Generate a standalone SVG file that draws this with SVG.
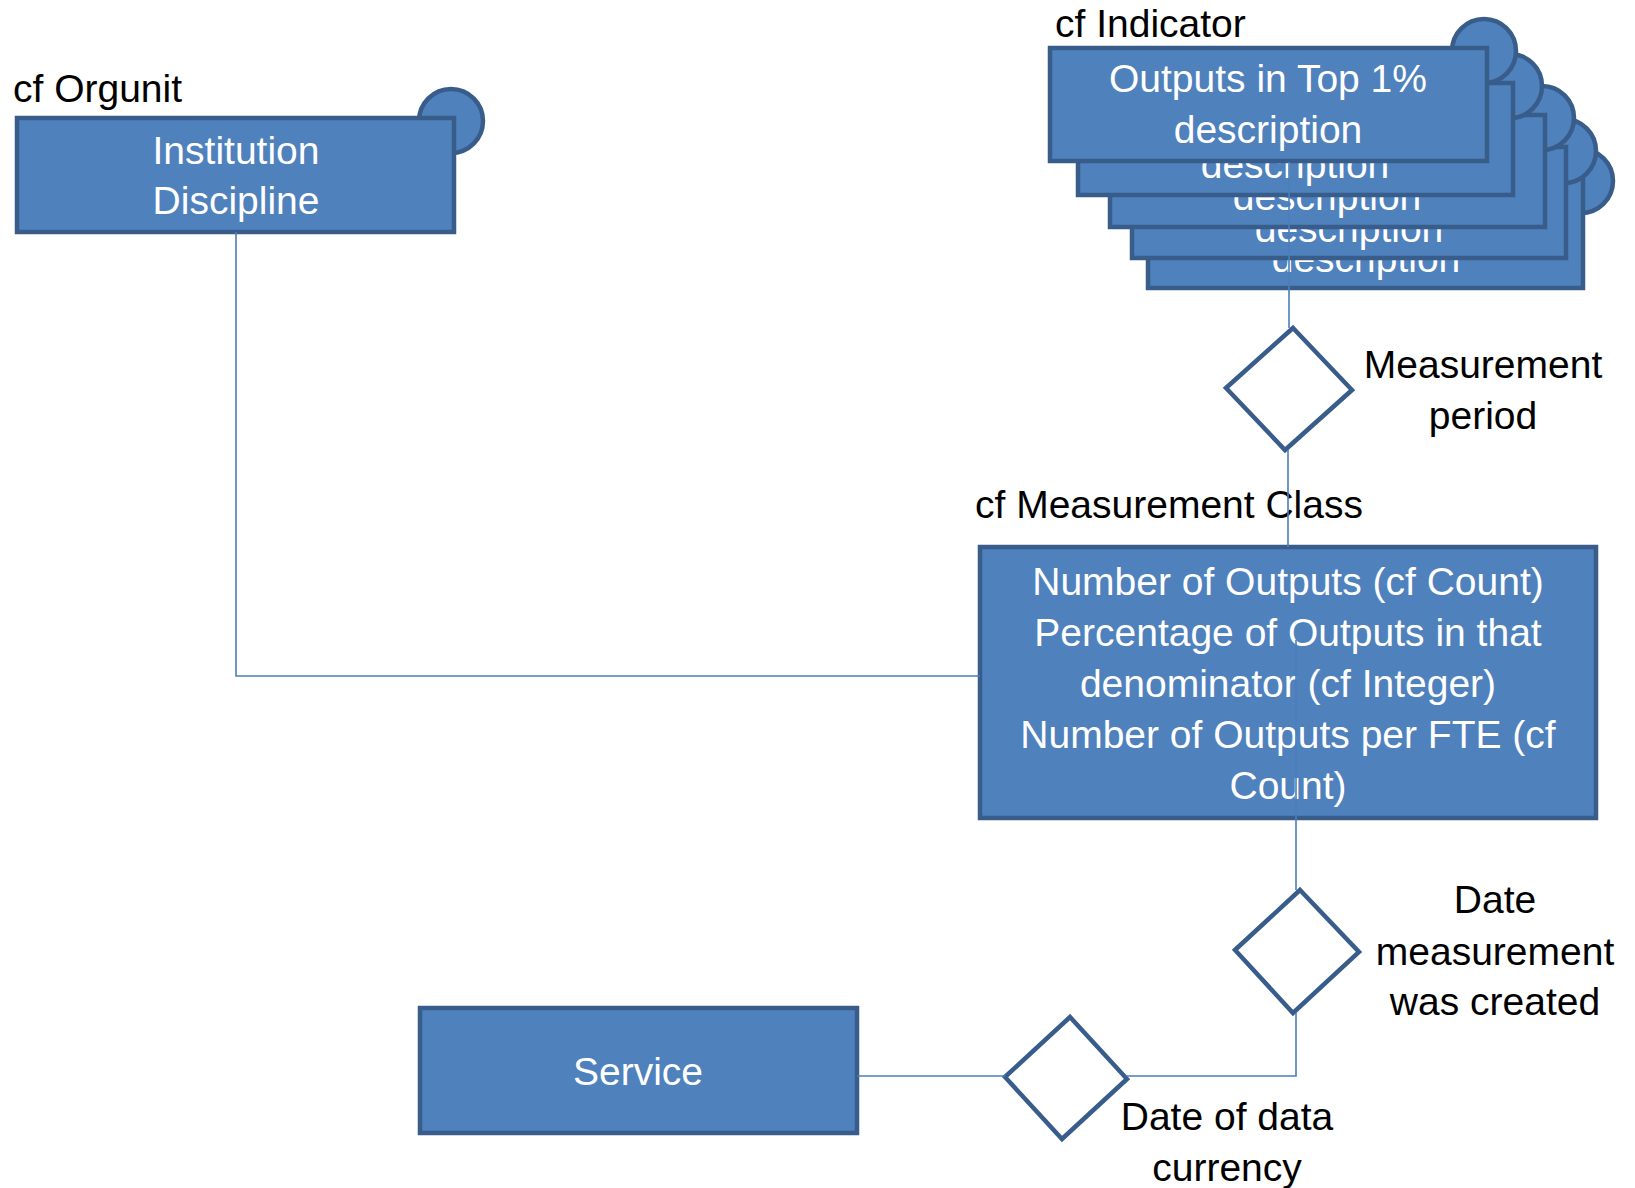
<svg xmlns="http://www.w3.org/2000/svg" width="1635" height="1188" viewBox="0 0 1635 1188">
<style>
.box{fill:#4F81BD;stroke:#385D8A;stroke-width:4.5}
.dia{fill:#FFFFFF;stroke:#385D8A;stroke-width:4.5;stroke-linejoin:miter}
.wt{font-family:"Liberation Sans",Arial,sans-serif;font-size:39px;fill:#FFFFFF;text-anchor:middle}
.lb{font-family:"Liberation Sans",Arial,sans-serif;font-size:39px;fill:#000000}
.lbc{font-family:"Liberation Sans",Arial,sans-serif;font-size:39px;fill:#000000;text-anchor:middle}
.con{fill:none;stroke:#4A7EBB;stroke-width:1.6}
</style>
<rect width="1635" height="1188" fill="#FFFFFF"/>

<g id="orgunit">
<text class="lb" x="13" y="102">cf Orgunit</text>
<circle class="box" cx="451" cy="121" r="32"/>
<rect class="box" x="17" y="118" width="437" height="114"/>
<text class="wt" x="236" y="164">Institution</text>
<text class="wt" x="236" y="214">Discipline</text>
</g>

<g id="indicator">
<text class="lb" x="1055" y="37">cf Indicator</text>
<g id="indicator-5">
<circle class="box" cx="1581" cy="181" r="32"/>
<rect class="box" x="1148" y="177" width="435" height="111"/>
<text class="wt" x="1366" y="221">Outputs in Top 1%</text>
<text class="wt" x="1366" y="272">description</text>
</g>
<g id="indicator-4">
<circle class="box" cx="1564" cy="151" r="32"/>
<rect class="box" x="1132" y="147" width="434" height="111"/>
<text class="wt" x="1349" y="191">Outputs in Top 1%</text>
<text class="wt" x="1349" y="242">description</text>
</g>
<g id="indicator-3">
<circle class="box" cx="1542" cy="118" r="32"/>
<rect class="box" x="1110" y="115" width="435" height="112"/>
<text class="wt" x="1327" y="159">Outputs in Top 1%</text>
<text class="wt" x="1327" y="210">description</text>
</g>
<g id="indicator-2">
<circle class="box" cx="1510" cy="86" r="32"/>
<rect class="box" x="1078" y="83" width="435" height="112"/>
<text class="wt" x="1295" y="127">Outputs in Top 1%</text>
<text class="wt" x="1295" y="178">description</text>
</g>
<g id="indicator-1">
<circle class="box" cx="1484" cy="51" r="32"/>
<rect class="box" x="1050" y="48" width="437" height="113"/>
<text class="wt" x="1268" y="92">Outputs in Top 1%</text>
<text class="wt" x="1268" y="143">description</text>
</g>
</g>

<g id="measurement-period">
<polygon class="dia" points="1293,328 1352,390 1285,450 1226,388"/>
<text class="lbc" x="1483" y="378">Measurement</text>
<text class="lbc" x="1483" y="429">period</text>
</g>

<g id="measurement-class">
<text class="lb" x="975" y="518">cf Measurement Class</text>
<rect class="box" x="980" y="547" width="616" height="271"/>
<text class="wt" x="1288" y="595">Number of Outputs (cf Count)</text>
<text class="wt" x="1288" y="646">Percentage of Outputs in that</text>
<text class="wt" x="1288" y="697">denominator (cf Integer)</text>
<text class="wt" x="1288" y="748">Number of Outputs per FTE (cf</text>
<text class="wt" x="1288" y="799">Count)</text>
</g>

<g id="date-created">
<polygon class="dia" points="1300,890 1359,952 1293,1013 1235,950"/>
<text class="lbc" x="1495" y="913">Date</text>
<text class="lbc" x="1495" y="965">measurement</text>
<text class="lbc" x="1495" y="1015">was created</text>
</g>

<g id="date-currency">
<polygon class="dia" points="1070,1017 1127,1079 1062,1139 1005,1077"/>
<text class="lbc" x="1227" y="1130">Date of data</text>
<text class="lbc" x="1227" y="1181">currency</text>
</g>

<g id="service">
<rect class="box" x="420" y="1008" width="437" height="125"/>
<text class="wt" x="638" y="1085">Service</text>
</g>

<g id="connectors">
<path class="con" d="M236 232 V676 H980"/>
<path class="con" d="M1289 162 V328"/>
<path class="con" d="M1288 450 V547"/>
<path class="con" d="M1296 640 V890"/>
<path class="con" d="M1296 1013 V1076 H1127"/>
<path class="con" d="M857 1076 H1005"/>
</g>
</svg>
